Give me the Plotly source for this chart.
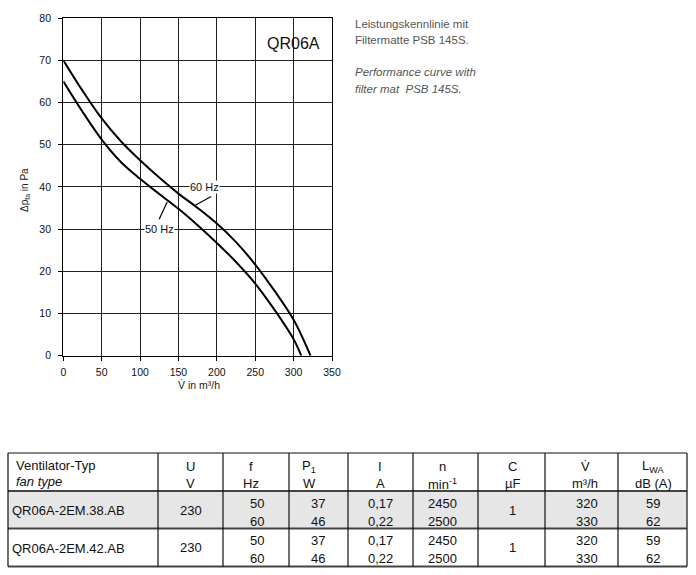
import plotly.graph_objects as go

W, H = 696, 575

# ---------------- chart data ----------------
flow_60hz = [0, 25, 50, 75, 100, 125, 150, 175, 200, 225, 250, 275, 300, 322]
pres_60hz = [70, 62.8, 56.2, 50.8, 46.3, 42.2, 38.4, 35.0, 31.3, 26.9, 21.6, 15.4, 8.5, 0]
flow_50hz = [0, 25, 50, 75, 100, 125, 150, 175, 200, 225, 250, 275, 300, 310]
pres_50hz = [65, 57.8, 51.2, 45.9, 41.9, 38.3, 34.8, 30.9, 26.7, 22.2, 17.1, 10.9, 3.9, 0]

x_ticks = [0, 50, 100, 150, 200, 250, 300, 350]
y_ticks = [0, 10, 20, 30, 40, 50, 60, 70, 80]

curve_labels = ["60 Hz", "50 Hz"]
label_pos = [(184.4, 40.0), (125.8, 29.9)]
leader_lines = [((192.6, 37.7), (171.4, 35.6)), ((124.9, 32.3), (135.3, 36.4))]

model_name = "QR06A"
note_lines = ["Leistungskennlinie mit", "Filtermatte PSB 145S.",
              "<i>Performance curve with</i>", "<i>filter mat  PSB 145S.</i>"]

# ---------------- table data ----------------
header_top = ["U", "f", "P<sub>1</sub>", "I", "n", "C", "V̇", "L<sub>WA</sub>"]
header_bot = ["V", "Hz", "W", "A", "min<sup>-1</sup>", "µF", "m³/h", "dB (A)"]
fan_types = ["QR06A-2EM.38.AB", "QR06A-2EM.42.AB"]
voltage = ["230", "230"]
frequency = [["50", "60"], ["50", "60"]]
power = [["37", "46"], ["37", "46"]]
current = [["0,17", "0,22"], ["0,17", "0,22"]]
speed = [["2450", "2500"], ["2450", "2500"]]
capacitance = ["1", "1"]
airflow = [["320", "330"], ["320", "330"]]
sound = [["59", "62"], ["59", "62"]]


def px(x):
    return x / W


def py(y):
    return 1 - y / H


FONT = "Liberation Sans, Arial, sans-serif"

fig = go.Figure()
fig.add_trace(go.Scatter(x=flow_60hz, y=pres_60hz, mode="lines", name="60 Hz",
                         line=dict(color="black", width=2, shape="spline", smoothing=1.0)))
fig.add_trace(go.Scatter(x=flow_50hz, y=pres_50hz, mode="lines", name="50 Hz",
                         line=dict(color="black", width=2, shape="spline", smoothing=1.0)))

annotations = []
shapes = []


def note(x, y, text, font, anchor="center", angle=0, **kw):
    annotations.append(dict(x=px(x), y=py(y), xref="paper", yref="paper", text=text,
                            showarrow=False, xanchor=anchor, yanchor="middle",
                            textangle=angle, font=font, **kw))


# curve labels + leaders
for lbl, (lx, ly), ((x0, y0), (x1, y1)) in zip(curve_labels, label_pos, leader_lines):
    shapes.append(dict(type="line", xref="x", yref="y", x0=x0, y0=y0, x1=x1, y1=y1,
                       line=dict(color="black", width=1.2)))
    annotations.append(dict(x=lx, y=ly, xref="x", yref="y", text=lbl, showarrow=False,
                            xanchor="center", yanchor="middle",
                            bgcolor="white", borderpad=0,
                            font=dict(family=FONT, size=11, color="#111")))

# model name
note(293, 43, model_name, dict(family=FONT, size=16, color="#111"))

# axis titles
note(25, 190, "Δp<sub>fa</sub> in Pa", dict(family=FONT, size=10, color="#222"), angle=-90)
note(199, 385, "V̇ in m³/h", dict(family=FONT, size=10.5, color="#222"))

# notes on right
for t, yy in zip(note_lines, [24, 40, 72, 88.7]):
    note(353, yy, t, dict(family=FONT, size=11.5, color="#555"), anchor="left")

# ---------------- table ----------------
col_edges = [8, 158, 223, 289, 348, 413, 478, 545, 618, 687]
t_top, t_head, t_mid, t_bot = 453, 491, 528.5, 566.5

shapes.append(dict(type="rect", xref="paper", yref="paper", x0=px(8), x1=px(687),
                   y0=py(t_head), y1=py(t_mid), fillcolor="#e6e6e6", line=dict(width=0),
                   layer="below"))
shapes.append(dict(type="line", xref="paper", yref="paper", x0=px(8), x1=px(687),
                   y0=py(t_top), y1=py(t_top), line=dict(color="#111", width=1.2)))
for yy in [t_head, t_mid, t_bot]:
    shapes.append(dict(type="line", xref="paper", yref="paper", x0=px(8), x1=px(687),
                       y0=py(yy), y1=py(yy), line=dict(color="#444", width=2)))
for xx in col_edges:
    shapes.append(dict(type="line", xref="paper", yref="paper", x0=px(xx), x1=px(xx),
                       y0=py(t_top), y1=py(t_bot), line=dict(color="#111", width=1.2)))

TF = dict(family=FONT, size=13, color="#111")

note(14, 465, "Ventilator-Typ", TF, anchor="left")
note(14, 481.5, "<i>fan type</i>", TF, anchor="left")
head_x = [190, 251, 309, 380, 442, 512, 585, 653]
for hx, a, b in zip(head_x, header_top, header_bot):
    note(hx, 466.5, a, TF)
    note(hx, 483.5, b, TF)

data_x = [190.5, 256.5, 318, 380, 442, 512, 586.5, 653]
name_y = [510.5, 548]
sub_y = [[503.3, 521.7], [540, 558.3]]
for r in range(2):
    note(10, name_y[r], fan_types[r], TF, anchor="left")
    note(data_x[0], name_y[r] - 0.5, voltage[r], TF)
    note(data_x[5], name_y[r] - 0.5, capacitance[r], TF)
    for k, series in zip([1, 2, 3, 4, 6, 7], [frequency, power, current, speed, airflow, sound]):
        for s in range(2):
            note(data_x[k], sub_y[r][s], series[r][s], TF)

axis_common = dict(showline=True, linecolor="black", linewidth=1.3, mirror=True,
                   showgrid=True, gridcolor="#222", gridwidth=1.2, zeroline=False,
                   automargin=False,
                   ticks="outside", ticklen=4, tickcolor="black", tickwidth=1.2,
                   tickfont=dict(family=FONT, size=10.5, color="#111"))

fig.update_layout(
    template="none",
    width=W, height=H, autosize=False,
    margin=dict(l=0, r=0, t=0, b=0, pad=0, autoexpand=False),
    paper_bgcolor="white", plot_bgcolor="white",
    showlegend=False,
    xaxis=dict(domain=[px(63.3), px(332)], range=[0, 350], tickvals=x_ticks,
               ticklabelstandoff=3, **axis_common),
    yaxis=dict(domain=[py(355.7), py(18)], range=[0, 80], tickvals=y_ticks,
               ticklabelstandoff=5, **axis_common),
    annotations=annotations,
    shapes=shapes,
)

fig.write_html("out.html")
